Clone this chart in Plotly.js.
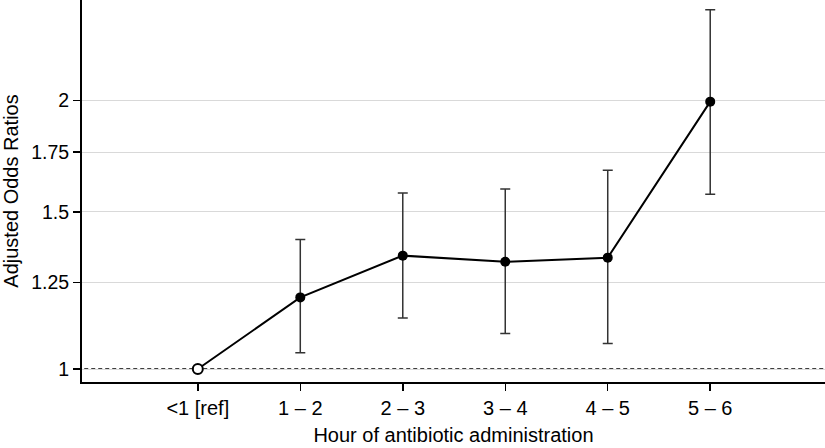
<!DOCTYPE html>
<html>
<head>
<meta charset="utf-8">
<script src="https://cdn.plot.ly/plotly-3.0.1.min.js"></script>
<style>html,body{margin:0;padding:0;background:#fff;}#chart{width:825px;height:448px;}</style>
</head>
<body>
<div id="chart"></div>
<script>
const categories = ["<1 [ref]", "1 \u2013 2", "2 \u2013 3", "3 \u2013 4", "4 \u2013 5", "5 \u2013 6"];
const oddsRatios = [1, 1.203, 1.340, 1.319, 1.333, 1.994];
const ciUpper = [1, 1.397, 1.575, 1.591, 1.670, 2.528];
const ciLower = [1, 1.043, 1.141, 1.096, 1.068, 1.570];
const yTickVals = [1, 1.25, 1.5, 1.75, 2];
const yTickText = ["1", "1.25", "1.5", "1.75", "2"];
const referenceValue = 1;

const refIdx = [0];
const estIdx = [1, 2, 3, 4, 5];

const font = "Liberation Sans, Arial, Helvetica, sans-serif";

const traces = [
  {
    x: categories, y: oddsRatios, type: "scatter", mode: "lines",
    line: {color: "#000", width: 2}, hoverinfo: "skip", showlegend: false
  },
  {
    x: estIdx.map(i => categories[i]),
    y: estIdx.map(i => oddsRatios[i]),
    type: "scatter", mode: "markers",
    marker: {color: "#000", size: 10},
    error_y: {
      type: "data", symmetric: false,
      array: estIdx.map(i => ciUpper[i] - oddsRatios[i]),
      arrayminus: estIdx.map(i => oddsRatios[i] - ciLower[i]),
      color: "#333", thickness: 1.5, width: 5
    },
    showlegend: false
  },
  {
    x: refIdx.map(i => categories[i]),
    y: refIdx.map(i => oddsRatios[i]),
    type: "scatter", mode: "markers",
    marker: {color: "#fff", size: 10, line: {color: "#000", width: 2}},
    showlegend: false
  }
];

const layout = {
  width: 825, height: 448,
  margin: {l: 82, r: 0, t: 0, b: 66},
  paper_bgcolor: "#fff", plot_bgcolor: "#fff",
  font: {family: font, color: "#000", size: 19},
  xaxis: {
    type: "category",
    range: [-1.13, 6.12],
    showgrid: false, zeroline: false,
    showline: true, linecolor: "#000", linewidth: 2,
    ticks: "outside", ticklen: 7, tickwidth: 1.5, tickcolor: "#000",
    tickfont: {family: font, size: 20},
    title: {text: "Hour of antibiotic administration", font: {family: font, size: 20}, standoff: 10}
  },
  yaxis: {
    type: "log",
    range: [-0.01457, 0.4137],
    tickvals: yTickVals, ticktext: yTickText,
    showgrid: true, gridcolor: "#d9d9d9", gridwidth: 1,
    zeroline: false,
    showline: true, linecolor: "#000", linewidth: 2,
    ticks: "outside", ticklen: 7, tickwidth: 1.5, tickcolor: "#000",
    tickfont: {family: font, size: 19.5},
    title: {text: "Adjusted Odds Ratios", font: {family: font, size: 20}, standoff: 8}
  },
  shapes: [
    {type: "line", xref: "paper", x0: 0.003, x1: 1, yref: "y",
     y0: referenceValue, y1: referenceValue,
     line: {color: "#fff", width: 2}, layer: "below"},
    {type: "line", xref: "paper", x0: 0.003, x1: 1, yref: "y",
     y0: referenceValue, y1: referenceValue,
     line: {color: "#000", width: 1.5, dash: "4px,3px"}, layer: "below"}
  ]
};

Plotly.newPlot("chart", traces, layout, {displayModeBar: false, staticPlot: true});
</script>
</body>
</html>
